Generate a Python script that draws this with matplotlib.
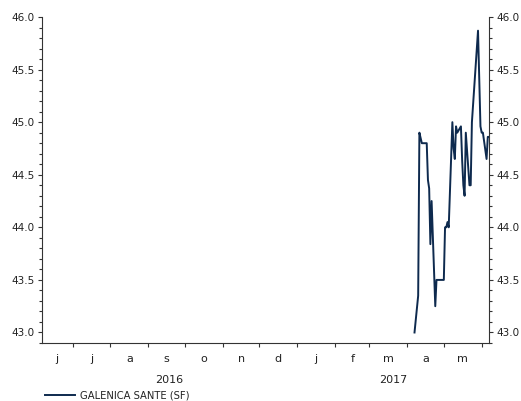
import matplotlib
matplotlib.use("Agg")
import matplotlib.pyplot as plt
import matplotlib.dates as mdates
from matplotlib.ticker import MultipleLocator, NullFormatter
import pandas as pd

# price series (only the last two months carry data)
dates = [
    "2017-04-07", "2017-04-10", "2017-04-11", "2017-04-12", "2017-04-13",
    "2017-04-17", "2017-04-18", "2017-04-19", "2017-04-20", "2017-04-21",
    "2017-04-24", "2017-04-25", "2017-04-28", "2017-05-01", "2017-05-02",
    "2017-05-03", "2017-05-04", "2017-05-05", "2017-05-08", "2017-05-09",
    "2017-05-10", "2017-05-11", "2017-05-12", "2017-05-15", "2017-05-16",
    "2017-05-17", "2017-05-18", "2017-05-19", "2017-05-22", "2017-05-23",
    "2017-05-24", "2017-05-29", "2017-05-31", "2017-06-01", "2017-06-02",
    "2017-06-05", "2017-06-06", "2017-06-07",
]
prices = [
    43.00, 43.35, 44.90, 44.85, 44.80,
    44.80, 44.45, 44.37, 43.84, 44.25,
    43.25, 43.50, 43.50, 43.50, 44.00,
    44.00, 44.05, 44.00, 45.00, 44.75,
    44.65, 44.96, 44.90, 44.96, 44.64,
    44.40, 44.30, 44.90, 44.40, 44.40,
    45.00, 45.87, 44.96, 44.90, 44.90,
    44.65, 44.86, 44.86,
]
series_name = "GALENICA SANTE (SF)"
month_letters = ["j", "j", "a", "s", "o", "n", "d", "j", "f", "m", "a", "m"]
years = ["2016", "2017"]

x_start = pd.Timestamp("2016-06-06")
x_end = pd.Timestamp("2017-06-07")

line_color = "#0e2a4e"
text_color = "#222222"

plt.rcParams["font.family"] = ["DejaVu Sans"]
plt.rcParams["font.size"] = 7.5

fig = plt.figure(figsize=(5.21, 4.01), dpi=100)
ax = fig.add_axes([0.0806, 0.1446, 0.858, 0.813])

ax.plot(pd.to_datetime(dates), prices, color=line_color, linewidth=1.4,
        label=series_name)

ax.set_xlim(x_start, x_end)
ax.set_ylim(42.9, 46.0)

ax.spines["top"].set_visible(False)
for side in ("left", "right", "bottom"):
    ax.spines[side].set_color("#333333")
    ax.spines[side].set_linewidth(0.8)

# y axis on both sides
ax.yaxis.set_major_locator(MultipleLocator(0.5))
ax.yaxis.set_minor_locator(MultipleLocator(0.1))
ax.yaxis.set_major_formatter(plt.FuncFormatter(lambda v, p: f"{v:.1f}"))
ax.tick_params(axis="y", which="both", left=True, right=True,
               labelleft=True, labelright=True, direction="out",
               colors="#333333", labelcolor=text_color)
ax.tick_params(axis="y", which="major", length=3, width=0.8, pad=2)
ax.tick_params(axis="y", which="minor", length=2.5, width=0.8)

# month boundaries as ticks, letters centred in each month
ax.xaxis.set_major_locator(mdates.MonthLocator())
ax.xaxis.set_major_formatter(NullFormatter())
ax.tick_params(axis="x", which="major", length=3, width=0.8,
               direction="out", colors="#333333")

month_starts = pd.date_range("2016-06-01", "2017-06-01", freq="MS")
for i, letter in enumerate(month_letters):
    lo = max(month_starts[i], x_start)
    hi = min(month_starts[i + 1], x_end)
    mid = lo + (hi - lo) / 2
    ax.text(mdates.date2num(mid), -0.033, letter, transform=ax.get_xaxis_transform(),
            ha="center", va="top", color=text_color, fontsize=8)

year_bounds = [x_start, pd.Timestamp("2017-01-01"), x_end]
for i, yr in enumerate(years):
    mid = year_bounds[i] + (year_bounds[i + 1] - year_bounds[i]) / 2
    ax.text(mdates.date2num(mid), -0.098, yr, transform=ax.get_xaxis_transform(),
            ha="center", va="top", color=text_color, fontsize=8)

fig.legend(loc="center left", bbox_to_anchor=(0.07, 0.014), frameon=False,
           handlelength=3.0, handletextpad=0.5, fontsize=7.2,
           labelcolor=text_color)

fig.savefig("out.png", dpi=100)
